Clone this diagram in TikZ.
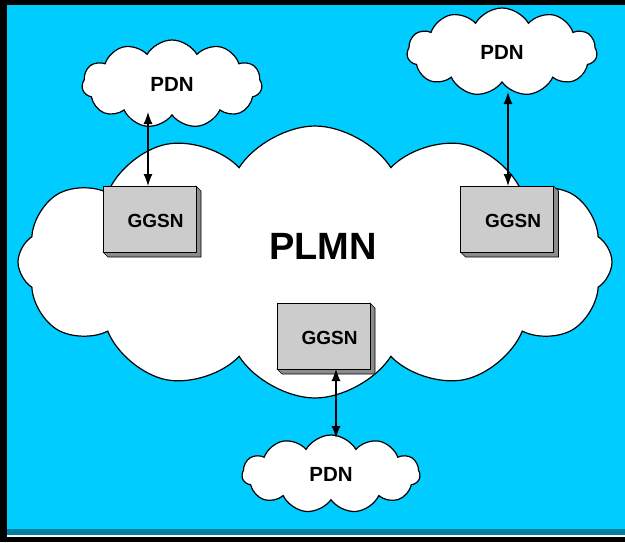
\documentclass[tikz,border=0pt]{standalone}
\usepackage{fontspec}
\setmainfont{Liberation Sans}
\usetikzlibrary{shapes.symbols,arrows.meta}
\definecolor{sky}{HTML}{00CCFF}
\definecolor{band}{HTML}{00809F}
\definecolor{boxface}{HTML}{CCCCCC}
\definecolor{boxside}{HTML}{8C8C8C}
\tikzset{
  puff/.style={cloud, draw=black, line width=1.2pt, fill=white, cloud ignores aspect, inner sep=0pt},
  lbl/.style={font=\bfseries\fontsize{20.5}{20.5}\selectfont},
  gwlbl/.style={font=\bfseries\fontsize{19}{19}\selectfont},
  gw/.style={draw=black, line width=0.8pt, fill=boxface, minimum width=93pt, minimum height=66pt, inner sep=0pt},
  link/.style={line width=1.2pt, {Latex[length=12pt,width=9pt]}-{Latex[length=12pt,width=9pt]}},
}
\begin{document}
\begin{tikzpicture}[x=1pt,y=-1pt]
  % frame and background
  \fill[black] (0,0) rectangle (625,542);
  \fill[sky] (7,5) rectangle (625,529);
  \fill[band] (7,529) rectangle (625,535);
  \fill[white] (7,535) rectangle (625,537);
  \useasboundingbox (0,0) rectangle (625,542);

  % operator network
  \node[puff, cloud puffs=12, cloud puff arc=115, minimum width=594pt, minimum height=272pt] (plmn) at (315,262) {};
  \node[font=\bfseries\fontsize{38}{38}\selectfont] (plmnlbl) at (323,246) {PLMN};

  % packet data networks
  \node[puff, cloud puffs=11, cloud puff arc=120, minimum width=180pt, minimum height=88pt] (pdnA) at (172,84) {};
  \node[puff, cloud puffs=11, cloud puff arc=120, minimum width=190pt, minimum height=88pt] (pdnB) at (502,52) {};
  \node[puff, cloud puffs=11, cloud puff arc=120, minimum width=178pt, minimum height=78pt] (pdnC) at (331,474) {};
  \node[lbl] (pdnAl) at (pdnA) {PDN};
  \node[lbl] (pdnBl) at (pdnB) {PDN};
  \node[lbl] (pdnCl) at (pdnC) {PDN};

  % gateways, each with a raised side edge
  \foreach \n/\cx/\cy in {gA/149.5/219, gB/507/219, gC/323.5/336} {
    \fill[boxside, draw=black, line width=0.6pt]
      (\cx+46.5,\cy-33) -- (\cx+51.5,\cy-28) -- (\cx+51.5,\cy+38) -- (\cx-41.5,\cy+38) -- (\cx-46.5,\cy+33) -- cycle;
    \node[gw] (\n) at (\cx,\cy) {};
    \node[gwlbl] (\n l) at (\cx+6,\cy+2) {GGSN};
  }

  % link end points
  \coordinate (aTop) at (148,112);
  \coordinate (aBot) at (148,186);
  \coordinate (bTop) at (508,92);
  \coordinate (bBot) at (508,186);
  \coordinate (cTop) at (336,369);
  \coordinate (cBot) at (336,438);

  % gateway to data network links
  \draw[link] (aTop) -- (aBot);
  \draw[link] (bTop) -- (bBot);
  \draw[link] (cTop) -- (cBot);
\end{tikzpicture}
\end{document}
